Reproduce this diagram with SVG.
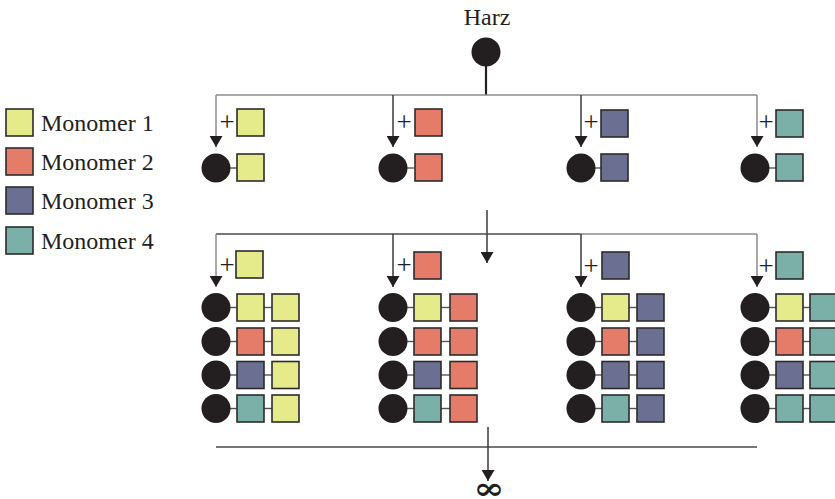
<svg xmlns="http://www.w3.org/2000/svg" xmlns:xlink="http://www.w3.org/1999/xlink" width="835" height="499" viewBox="0 0 835 499">
  <style>
    .t { font-family: "Liberation Serif", "Times New Roman", serif; fill: #231f20; }
    .lbl { font-size: 24px; }
    .plus { font-size: 27px; text-anchor: middle; }
    .bead { fill: #231f20; }
    .sq { stroke: #2e2b2c; stroke-width: 1.6; }
    .m1 { fill: #e5ea8a; }
    .m2 { fill: #e57b69; }
    .m3 { fill: #6b7093; }
    .m4 { fill: #7ab0a8; }
    .bond { stroke: #555; stroke-width: 1.4; }
    .ln { fill: none; stroke: #4a4a4a; stroke-width: 1.5; }
    .lng { fill: none; stroke: #8c8c8c; stroke-width: 1.5; }
    .arr { fill: none; stroke: #3a3a3a; stroke-width: 1.5; marker-end: url(#head); }
    .arrg { fill: none; stroke: #8c8c8c; stroke-width: 1.5; marker-end: url(#head); }
  </style>
  <defs>
    <marker id="head" markerUnits="userSpaceOnUse" markerWidth="11" markerHeight="13" refX="11" refY="6.5" orient="auto" viewBox="0 0 11 13">
      <path d="M0,0 L11,6.5 L0,13 Z" fill="#231f20"/>
    </marker>
    <!-- bead with its bond stub -->
    <g id="bead1">
      <line class="bond" x1="14" y1="0" x2="21" y2="0"/>
      <circle class="bead" cx="0" cy="0" r="14.5"/>
    </g>
  </defs>

  <rect width="835" height="499" fill="#ffffff"/>

  <!-- connectors -->
  <g id="connectors">
    <!-- resin stem -->
    <line x1="486" y1="66" x2="486" y2="95" stroke="#231f20" stroke-width="2.2"/>
    <!-- first split -->
    <line class="lng" x1="216" y1="95" x2="757" y2="95"/>
    <path class="arrg" d="M216,95 V147"/>
    <path class="arr" d="M393,95 V147"/>
    <path class="arr" d="M581,95 V147"/>
    <path class="arrg" d="M757,95 V147"/>
    <!-- second split -->
    <path class="arr" d="M487,210 V263"/>
    <line class="ln" x1="216" y1="234" x2="580" y2="234"/>
    <line class="lng" x1="580" y1="234" x2="757" y2="234"/>
    <path class="arrg" d="M216,234 V287"/>
    <path class="arr" d="M393,234 V287"/>
    <path class="arr" d="M581,234 V287"/>
    <path class="arrg" d="M757,234 V287"/>
    <!-- continuation -->
    <line class="ln" x1="216" y1="447" x2="757" y2="447"/>
    <path class="arr" d="M488,427 V481"/>
  </g>

  <!-- resin -->
  <g id="harz">
    <text class="t lbl" x="487" y="25" text-anchor="middle">Harz</text>
    <circle class="bead" cx="486" cy="52" r="14.5"/>
  </g>

  <!-- legend -->
  <g id="legend-1">
    <rect class="sq m1" x="6" y="109" width="27" height="27"/>
    <text class="t lbl" x="41" y="131">Monomer 1</text>
  </g>
  <g id="legend-2">
    <rect class="sq m2" x="6" y="148" width="27" height="27"/>
    <text class="t lbl" x="41" y="170">Monomer 2</text>
  </g>
  <g id="legend-3">
    <rect class="sq m3" x="6" y="187" width="27" height="27"/>
    <text class="t lbl" x="41" y="209">Monomer 3</text>
  </g>
  <g id="legend-4">
    <rect class="sq m4" x="6" y="227" width="27" height="27"/>
    <text class="t lbl" x="41" y="249">Monomer 4</text>
  </g>

  <!-- first coupling -->
  <g id="step1-m1">
    <text class="t plus" x="227" y="131">+</text>
    <rect class="sq m1" x="237" y="109" width="27" height="27"/>
    <use xlink:href="#bead1" x="216" y="168"/>
    <rect class="sq m1" x="237" y="154" width="27" height="27"/>
  </g>
  <g id="step1-m2">
    <text class="t plus" x="404" y="131">+</text>
    <rect class="sq m2" x="415" y="109" width="27" height="27"/>
    <use xlink:href="#bead1" x="393" y="168"/>
    <rect class="sq m2" x="415" y="154" width="27" height="27"/>
  </g>
  <g id="step1-m3">
    <text class="t plus" x="591" y="131">+</text>
    <rect class="sq m3" x="601" y="110" width="27" height="27"/>
    <use xlink:href="#bead1" x="581" y="168"/>
    <rect class="sq m3" x="601" y="154" width="27" height="27"/>
  </g>
  <g id="step1-m4">
    <text class="t plus" x="766" y="131">+</text>
    <rect class="sq m4" x="776" y="110" width="27" height="27"/>
    <use xlink:href="#bead1" x="755" y="168"/>
    <rect class="sq m4" x="776" y="154" width="27" height="27"/>
  </g>

  <!-- second coupling: column adds monomer 1 -->
  <g id="step2-m1">
    <text class="t plus" x="227" y="274">+</text>
    <rect class="sq m1" x="236" y="251" width="27" height="27"/>
    <g>
      <use xlink:href="#bead1" x="216" y="307.5"/>
      <line class="bond" x1="264" y1="307.5" x2="272" y2="307.5"/>
      <rect class="sq m1" x="237" y="294" width="27" height="27"/>
      <rect class="sq m1" x="272" y="294" width="27" height="27"/>
    </g>
    <g>
      <use xlink:href="#bead1" x="216" y="341.5"/>
      <line class="bond" x1="264" y1="341.5" x2="272" y2="341.5"/>
      <rect class="sq m2" x="237" y="328" width="27" height="27"/>
      <rect class="sq m1" x="272" y="328" width="27" height="27"/>
    </g>
    <g>
      <use xlink:href="#bead1" x="216" y="375"/>
      <line class="bond" x1="264" y1="375" x2="272" y2="375"/>
      <rect class="sq m3" x="237" y="361.5" width="27" height="27"/>
      <rect class="sq m1" x="272" y="361.5" width="27" height="27"/>
    </g>
    <g>
      <use xlink:href="#bead1" x="216" y="408.5"/>
      <line class="bond" x1="264" y1="408.5" x2="272" y2="408.5"/>
      <rect class="sq m4" x="237" y="395" width="27" height="27"/>
      <rect class="sq m1" x="272" y="395" width="27" height="27"/>
    </g>
  </g>

  <!-- second coupling: column adds monomer 2 -->
  <g id="step2-m2">
    <text class="t plus" x="404" y="274">+</text>
    <rect class="sq m2" x="414" y="252" width="27" height="27"/>
    <g>
      <use xlink:href="#bead1" x="393" y="307.5"/>
      <line class="bond" x1="441" y1="307.5" x2="450" y2="307.5"/>
      <rect class="sq m1" x="414" y="294" width="27" height="27"/>
      <rect class="sq m2" x="450" y="294" width="27" height="27"/>
    </g>
    <g>
      <use xlink:href="#bead1" x="393" y="341.5"/>
      <line class="bond" x1="441" y1="341.5" x2="450" y2="341.5"/>
      <rect class="sq m2" x="414" y="328" width="27" height="27"/>
      <rect class="sq m2" x="450" y="328" width="27" height="27"/>
    </g>
    <g>
      <use xlink:href="#bead1" x="393" y="375"/>
      <line class="bond" x1="441" y1="375" x2="450" y2="375"/>
      <rect class="sq m3" x="414" y="361.5" width="27" height="27"/>
      <rect class="sq m2" x="450" y="361.5" width="27" height="27"/>
    </g>
    <g>
      <use xlink:href="#bead1" x="393" y="408.5"/>
      <line class="bond" x1="441" y1="408.5" x2="450" y2="408.5"/>
      <rect class="sq m4" x="414" y="395" width="27" height="27"/>
      <rect class="sq m2" x="450" y="395" width="27" height="27"/>
    </g>
  </g>

  <!-- second coupling: column adds monomer 3 -->
  <g id="step2-m3">
    <text class="t plus" x="591" y="275">+</text>
    <rect class="sq m3" x="602" y="252" width="27" height="27"/>
    <g>
      <use xlink:href="#bead1" x="581" y="307.5"/>
      <line class="bond" x1="629" y1="307.5" x2="637" y2="307.5"/>
      <rect class="sq m1" x="602" y="294" width="27" height="27"/>
      <rect class="sq m3" x="637" y="294" width="27" height="27"/>
    </g>
    <g>
      <use xlink:href="#bead1" x="581" y="341.5"/>
      <line class="bond" x1="629" y1="341.5" x2="637" y2="341.5"/>
      <rect class="sq m2" x="602" y="328" width="27" height="27"/>
      <rect class="sq m3" x="637" y="328" width="27" height="27"/>
    </g>
    <g>
      <use xlink:href="#bead1" x="581" y="375"/>
      <line class="bond" x1="629" y1="375" x2="637" y2="375"/>
      <rect class="sq m3" x="602" y="361.5" width="27" height="27"/>
      <rect class="sq m3" x="637" y="361.5" width="27" height="27"/>
    </g>
    <g>
      <use xlink:href="#bead1" x="581" y="408.5"/>
      <line class="bond" x1="629" y1="408.5" x2="637" y2="408.5"/>
      <rect class="sq m4" x="602" y="395" width="27" height="27"/>
      <rect class="sq m3" x="637" y="395" width="27" height="27"/>
    </g>
  </g>

  <!-- second coupling: column adds monomer 4 -->
  <g id="step2-m4">
    <text class="t plus" x="766" y="275">+</text>
    <rect class="sq m4" x="776" y="252" width="27" height="27"/>
    <g>
      <use xlink:href="#bead1" x="755" y="307.5"/>
      <line class="bond" x1="803" y1="307.5" x2="810" y2="307.5"/>
      <rect class="sq m1" x="776" y="294" width="27" height="27"/>
      <rect class="sq m4" x="810" y="294" width="27" height="27"/>
    </g>
    <g>
      <use xlink:href="#bead1" x="755" y="341.5"/>
      <line class="bond" x1="803" y1="341.5" x2="810" y2="341.5"/>
      <rect class="sq m2" x="776" y="328" width="27" height="27"/>
      <rect class="sq m4" x="810" y="328" width="27" height="27"/>
    </g>
    <g>
      <use xlink:href="#bead1" x="755" y="375"/>
      <line class="bond" x1="803" y1="375" x2="810" y2="375"/>
      <rect class="sq m3" x="776" y="361.5" width="27" height="27"/>
      <rect class="sq m4" x="810" y="361.5" width="27" height="27"/>
    </g>
    <g>
      <use xlink:href="#bead1" x="755" y="408.5"/>
      <line class="bond" x1="803" y1="408.5" x2="810" y2="408.5"/>
      <rect class="sq m4" x="776" y="395" width="27" height="27"/>
      <rect class="sq m4" x="810" y="395" width="27" height="27"/>
    </g>
  </g>

  <!-- unending continuation -->
  <g id="infinity">
    <text transform="translate(489 499) scale(1.2 1)" x="0" y="0" font-family="'DejaVu Serif', serif" font-size="31" font-weight="bold" fill="#231f20" text-anchor="middle">∞</text>
  </g>
</svg>
